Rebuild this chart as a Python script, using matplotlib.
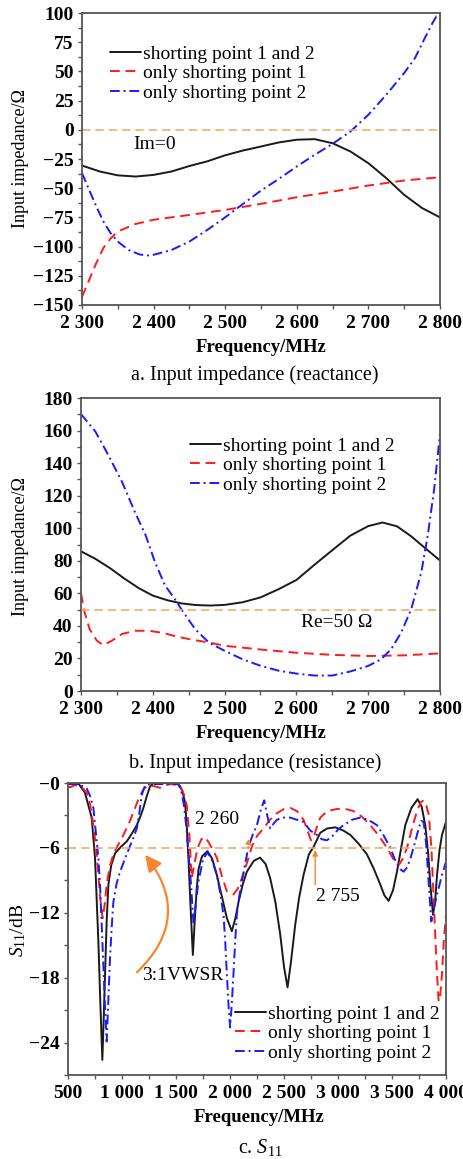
import matplotlib
matplotlib.use("Agg")
import matplotlib.pyplot as plt
from matplotlib.ticker import MultipleLocator, FixedLocator, FixedFormatter

plt.rcParams['font.family'] = ['Liberation Serif', 'DejaVu Serif']
plt.rcParams['mathtext.fontset'] = 'custom'
plt.rcParams['mathtext.rm'] = 'Liberation Serif'
plt.rcParams['mathtext.it'] = 'Liberation Serif:italic'
plt.rcParams['axes.unicode_minus'] = True

# ---------------- data: panel a (reactance) ----------------
a_freq_both = [2300, 2325, 2350, 2375, 2400, 2425, 2450, 2475, 2500, 2525, 2550,
               2575, 2600, 2625, 2650, 2675, 2700, 2725, 2750, 2775, 2800]
a_both = [-30.6, -35.7, -39, -40, -38.6, -35.7, -31, -27, -21.8, -17.7, -14.3,
          -10.8, -8.5, -8, -11.5, -18.6, -28.6, -41.4, -55.7, -67, -75]
a_freq_p1 = [2300, 2310, 2320, 2330, 2340, 2350, 2375, 2400, 2450, 2500, 2550,
             2600, 2650, 2700, 2750, 2800]
a_p1 = [-143, -128.6, -114, -101, -93, -87, -80.6, -77, -72.9, -68.6, -63.4,
        -57.7, -52.9, -47.7, -43.4, -40.6]
a_freq_p2 = [2300, 2310, 2320, 2330, 2340, 2350, 2365, 2380, 2390, 2400, 2425,
             2450, 2475, 2500, 2525, 2550, 2575, 2600, 2625, 2650, 2675, 2700,
             2725, 2750, 2765, 2780, 2790, 2795, 2800]
a_p2 = [-37, -51.4, -65.7, -78.6, -88.6, -95.7, -102.9, -106.6, -107.7, -107,
        -102.9, -95.7, -85.7, -74.9, -63.4, -52, -42, -31.4, -21.4, -12, -1.4,
        12.9, 30, 48.6, 61.4, 80, 92, 97, 96.6]

# ---------------- data: panel b (resistance) ----------------
b_freq_both = [2300, 2320, 2340, 2360, 2380, 2400, 2420, 2440, 2460, 2480, 2500,
               2525, 2550, 2575, 2600, 2625, 2650, 2675, 2700, 2720, 2740, 2760,
               2780, 2800]
b_both = [85.8, 81.2, 75.6, 69.2, 63.3, 58.6, 55.8, 53.8, 52.8, 52.5, 52.9,
          54.5, 57.5, 62.5, 68.2, 77.5, 86.5, 95.4, 101.3, 103.5, 101.2, 95,
          87.5, 80.2]
b_freq_p1 = [2300, 2305, 2312, 2322, 2331, 2343, 2357, 2375, 2395, 2415, 2435,
             2455, 2478, 2500, 2550, 2600, 2650, 2700, 2750, 2800]
b_p1 = [60, 48.3, 38, 30.9, 28.2, 30.9, 35, 37, 37, 35.6, 33.3, 31.5, 29.8,
        27.8, 25.5, 23.5, 22.2, 21.5, 21.9, 23.1]
b_freq_p2 = [2300, 2320, 2338, 2357, 2375, 2390, 2403, 2417, 2429, 2441, 2459,
             2478, 2500, 2525, 2550, 2575, 2600, 2625, 2650, 2675, 2700, 2718,
             2732, 2746, 2760, 2774, 2783, 2792, 2800]
b_p2 = [170.1, 159.4, 145, 128.6, 110, 95.7, 79.2, 64.8, 57.6, 49.4, 38, 29.8,
        24.7, 19.5, 15.5, 12.5, 10.7, 9.5, 9.5, 12, 15.4, 19.5, 25.7, 36, 50.4,
        73, 95.7, 124.5, 158]

# ---------------- data: panel c (S11) ----------------
c_freq_both = [500, 600, 657, 719, 750, 781, 800, 818, 830, 843, 858, 874, 900,
               936, 990, 1044, 1090, 1137, 1170, 1198, 1230, 1260, 1290, 1500,
               1538, 1560, 1584, 1600, 1615, 1635, 1656, 1675, 1690, 1708, 1740,
               1791, 1835, 1878, 1925, 1971, 2017, 2050, 2079, 2120, 2156, 2220,
               2279, 2330, 2372, 2420, 2465, 2500, 2533, 2565, 2604, 2640, 2681,
               2730, 2774, 2836, 2900, 2975, 3050, 3114, 3190, 3268, 3330, 3392,
               3430, 3469, 3510, 3546, 3585, 3623, 3680, 3737, 3775, 3808, 3835,
               3855, 3880, 3900, 3917, 3940, 3963, 4000]
c_both = [0, -0.1, -0.9, -3.2, -6.9, -14.6, -20.5, -25.6, -22, -17.7, -12.8,
          -9.4, -7.6, -6.5, -5.9, -5.4, -4.7, -3.9, -3.1, -2.3, -1.2, -0.3, 0,
          0, -0.3, -0.8, -1.8, -4, -6.9, -11.5, -15.9, -12.5, -10, -8, -6.8,
          -6.3, -7, -8.5, -10.5, -12.5, -13.7, -12.5, -11, -9.3, -8.2, -7.2,
          -6.9, -7.5, -8.8, -11, -14, -17, -18.9, -16.5, -13.1, -10.6, -8.5,
          -6.6, -5.9, -4.6, -4.2, -4.1, -4.4, -4.8, -5.6, -6.6, -7.9, -9.4,
          -10.4, -10.9, -9.9, -8.2, -6, -3.9, -2.3, -1.5, -2.2, -3.9, -6.5,
          -9.4, -12.2, -10.8, -8.5, -6.2, -4.8, -3.6]
c_freq_p1 = [500, 520, 560, 620, 673, 705, 735, 760, 781, 800, 821, 840, 858,
             885, 920, 965, 1013, 1070, 1121, 1160, 1198, 1240, 1300, 1352,
             1400, 1450, 1530, 1554, 1580, 1600, 1625, 1645, 1670, 1700, 1735,
             1770, 1810, 1878, 1930, 1971, 2032, 2070, 2110, 2160, 2202, 2250,
             2310, 2370, 2434, 2500, 2557, 2620, 2681, 2725, 2750, 2775, 2800,
             2836, 2900, 2990, 3070, 3144, 3220, 3299, 3380, 3454, 3510, 3562,
             3600, 3639, 3690, 3732, 3765, 3793, 3815, 3840, 3865, 3886, 3900,
             3917, 3932, 3945, 3963, 3980, 4000]
c_p1 = [-0.3, -0.4, -0.2, -0.3, -0.9, -2, -3.9, -6, -8.5, -10.8, -12.5, -11.2,
        -9.4, -7.8, -6.6, -5.7, -4.8, -3.6, -2.3, -1.3, -0.6, -0.2, -0.3,
        -0.45, -0.2, -0.1, -0.2, -0.6, -1.2, -2.1, -5, -8.8, -7.5, -6, -5.2,
        -5.0, -5.6, -6.9, -8.8, -10, -10.3, -9.8, -8.8, -7.3, -5.9, -4.9,
        -4.2, -3.4, -2.8, -2.4, -2.3, -2.6, -3.4, -4.6, -5.3, -5.0, -4.2,
        -3.2, -2.6, -2.4, -2.4, -2.6, -3.1, -3.9, -4.9, -6.0, -7.0, -7.6,
        -7.0, -6.0, -4.0, -2.6, -1.8, -1.6, -2.0, -2.9, -6.0, -10.8, -14,
        -17.7, -20.2, -19.8, -17.7, -14.5, -12.2]
c_freq_p2 = [500, 600, 673, 705, 735, 760, 781, 797, 812, 828, 843, 858, 872,
             889, 905, 920, 950, 982, 1020, 1059, 1100, 1137, 1160, 1183, 1214,
             1250, 1523, 1550, 1574, 1595, 1615, 1640, 1662, 1685, 1708, 1750,
             1791, 1835, 1878, 1910, 1940, 1955, 1971, 1986, 2001, 2016, 2032,
             2047, 2063, 2085, 2110, 2140, 2171, 2210, 2249, 2285, 2317, 2345,
             2372, 2400, 2434, 2490, 2557, 2620, 2681, 2743, 2805, 2850, 2898,
             2950, 3000, 3052, 3130, 3206, 3280, 3361, 3420, 3484, 3540, 3580,
             3608, 3640, 3670, 3710, 3747, 3770, 3793, 3815, 3831, 3850, 3864,
             3880, 3917, 3963, 4000]
c_p2 = [-0.1, -0.1, -0.5, -1.2, -2.3, -4.8, -6.9, -9.5, -13.1, -17, -20.8,
        -23.9, -20.5, -16.2, -13.3, -11, -9.3, -8.2, -7.2, -6.2, -5.2, -4.2,
        -2.8, -1.1, -0.2, -0.1, -0.1, -0.8, -2.1, -4, -6.4, -9.5, -13, -11,
        -9.1, -7.1, -6.4, -7.2, -8.5, -10.2, -12.2, -14.5, -17.7, -20.5,
        -22.6, -20.5, -17.7, -14.8, -12.2, -10.5, -9.1, -7.5, -5.9, -4.8,
        -3.9, -2.5, -1.6, -3.0, -4.2, -3.8, -3.4, -3.2, -3.2, -3.4, -3.6,
        -4.4, -4.8, -5.2, -5.3, -4.9, -4.3, -3.9, -3.4, -3.2, -3.4, -3.9,
        -4.8, -6.0, -7.4, -8.0, -8.2, -7.8, -7.0, -5.6, -4.2, -3.5, -3.6,
        -5.5, -7.9, -10.8, -12.8, -12, -10.3, -8.5, -7.3]

labels = ['shorting point 1 and 2', 'only shorting point 1', 'only shorting point 2']
a_xticks = [2300, 2400, 2500, 2600, 2700, 2800]
a_xticklabels = ['2 300', '2 400', '2 500', '2 600', '2 700', '2 800']
a_yticks = [-150, -125, -100, -75, -50, -25, 0, 25, 50, 75, 100]
a_yticklabels = ['\u2212150', '\u2212125', '\u2212100', '\u221275', '\u221250', '\u221225',
                 '0', '25', '50', '75', '100']
b_yticks = [0, 20, 40, 60, 80, 100, 120, 140, 160, 180]
c_xticks = [500, 1000, 1500, 2000, 2500, 3000, 3500, 4000]
c_xticklabels = ['500', '1 000', '1 500', '2 000', '2 500', '3 000', '3 500', '4 000']
c_yticks = [-24, -18, -12, -6, 0]
c_yticklabels = ['\u221224', '\u221218', '\u221212', '\u22126', '\u22120']

# ---------------- style ----------------
W, H = 464, 1159
fig = plt.figure(figsize=(W / 100, H / 100), dpi=100)

BLACK = '#1a1a1a'
RED = '#ff1a1a'
BLUE = '#1a1aff'
ORANGE_LINE = '#f5aa6c'
ORANGE_ARROW = '#f7862c'
SPINE = '#555555'
LW = 1.4
TICKFS = 14
LABFS = 13.5
LEGFS = 14


def ax_rect(l, t, r, b):
    return [l / W, 1 - b / H, (r - l) / W, (b - t) / H]


def style_axes(ax):
    for s in ax.spines.values():
        s.set_color(SPINE)
        s.set_linewidth(1.3)
    ax.tick_params(which='both', direction='out', color=SPINE, width=1.0)
    ax.tick_params(which='major', length=3, labelsize=TICKFS)
    ax.tick_params(which='minor', length=3)
    ax.tick_params(axis='x', which='major', pad=4)
    ax.tick_params(axis='y', which='major', pad=3)
    for lab in ax.get_xticklabels() + ax.get_yticklabels():
        lab.set_fontweight('bold')


def plot_three(ax, f1, y1, f2, y2, f3, y3):
    l1, = ax.plot(f1, y1, color=BLACK, lw=LW, solid_capstyle='round')
    l2, = ax.plot(f2, y2, color=RED, lw=LW, dashes=(5, 3))
    l3, = ax.plot(f3, y3, color=BLUE, lw=LW, dashes=(5, 2, 1, 2))
    return [l1, l2, l3]


def add_legend(ax, handles, x0, y0):
    ax.legend(handles, labels, loc='upper left', bbox_to_anchor=(x0, y0),
              frameon=False, fontsize=LEGFS, handlelength=1.6,
              handletextpad=0.1, labelspacing=0.1, borderpad=0,
              borderaxespad=0)


# ---------------- panel a ----------------
axa = fig.add_axes(ax_rect(82, 13, 440, 305))
hl = plot_three(axa, a_freq_both, a_both, a_freq_p1, a_p1, a_freq_p2, a_p2)
axa.axhline(0, color=ORANGE_LINE, lw=1.2, dashes=(5, 3))
axa.set_xlim(2300, 2800)
axa.set_ylim(-150, 100)
axa.xaxis.set_major_locator(FixedLocator(a_xticks))
axa.xaxis.set_major_formatter(FixedFormatter(a_xticklabels))
axa.xaxis.set_minor_locator(MultipleLocator(50))
axa.yaxis.set_major_locator(FixedLocator(a_yticks))
axa.yaxis.set_major_formatter(FixedFormatter(a_yticklabels))
axa.yaxis.set_minor_locator(MultipleLocator(12.5))
style_axes(axa)
add_legend(axa, hl, 0.078, 0.89)
axa.text(2371, -12.2, 'Im=0', fontsize=LEGFS, ha='left', va='center')

# ---------------- panel b ----------------
axb = fig.add_axes(ax_rect(81, 398, 440, 691))
hl = plot_three(axb, b_freq_both, b_both, b_freq_p1, b_p1, b_freq_p2, b_p2)
axb.axhline(50, color=ORANGE_LINE, lw=1.2, dashes=(5, 3))
axb.set_xlim(2300, 2800)
axb.set_ylim(0, 180)
axb.xaxis.set_major_locator(FixedLocator(a_xticks))
axb.xaxis.set_major_formatter(FixedFormatter(a_xticklabels))
axb.xaxis.set_minor_locator(MultipleLocator(50))
axb.yaxis.set_major_locator(FixedLocator(b_yticks))
axb.yaxis.set_minor_locator(MultipleLocator(10))
style_axes(axb)
add_legend(axb, hl, 0.304, 0.867)
axb.text(2606, 41.8, 'Re=50 \u03a9', fontsize=LEGFS, ha='left', va='center')

# ---------------- panel c ----------------
axc = fig.add_axes(ax_rect(68, 783, 446, 1075))
hl = plot_three(axc, c_freq_both, c_both, c_freq_p1, c_p1, c_freq_p2, c_p2)
axc.axhline(-6, color=ORANGE_LINE, lw=1.2, dashes=(5, 3))
axc.set_xlim(500, 4000)
axc.set_ylim(-27, 0)
axc.xaxis.set_major_locator(FixedLocator(c_xticks))
axc.xaxis.set_major_formatter(FixedFormatter(c_xticklabels))
axc.xaxis.set_minor_locator(MultipleLocator(250))
axc.yaxis.set_major_locator(FixedLocator(c_yticks))
axc.yaxis.set_major_formatter(FixedFormatter(c_yticklabels))
axc.yaxis.set_minor_locator(MultipleLocator(3))
style_axes(axc)
add_legend(axc, hl, 0.442, 0.24)

axc.annotate('2 260', xy=(2205, -5.8), xytext=(1881, -3.4), fontsize=LEGFS,
             ha='center', va='center',
             arrowprops=dict(arrowstyle='-|>', color=ORANGE_ARROW, lw=1.0,
                             shrinkA=14, shrinkB=0, mutation_scale=8))
axc.annotate('2 755', xy=(2789, -6.2), xytext=(3002, -10.5), fontsize=LEGFS,
             ha='center', va='center')
axc.annotate('', xy=(2789, -6.2), xytext=(2789, -9.4),
             arrowprops=dict(arrowstyle='-|>', color=ORANGE_ARROW, lw=1.0,
                             shrinkA=0, shrinkB=0, mutation_scale=8))
axc.text(1561, -17.8, '3:1VWSR', fontsize=LEGFS, ha='center', va='center')
axc.annotate('', xy=(1214, -6.65), xytext=(1139, -17.5),
             arrowprops=dict(arrowstyle='-|>,head_length=0.7,head_width=0.35',
                             color=ORANGE_ARROW, lw=1.6, shrinkA=0, shrinkB=0,
                             mutation_scale=14,
                             connectionstyle='arc3,rad=0.45'))

# ---------------- labels & captions ----------------
def ftext(x, y, s, **kw):
    fig.text(x / W, 1 - y / H, s, **kw)

ftext(261, 347, 'Frequency/MHz', fontsize=LABFS, fontweight='bold', ha='center', va='center')
ftext(255, 375, 'a. Input impedance (reactance)', fontsize=14.5, ha='center', va='center')
ftext(261, 733, 'Frequency/MHz', fontsize=LABFS, fontweight='bold', ha='center', va='center')
ftext(255, 763, 'b. Input impedance (resistance)', fontsize=14.5, ha='center', va='center')
ftext(259, 1117, 'Frequency/MHz', fontsize=LABFS, fontweight='bold', ha='center', va='center')
ftext(260, 1147, 'c. $S_{11}$', fontsize=14.5, ha='center', va='center')

ftext(21, 159, 'Input impedance/\u03a9', fontsize=13, rotation=90, ha='center', va='center')
ftext(21, 547, 'Input impedance/\u03a9', fontsize=13, rotation=90, ha='center', va='center')
ftext(18, 930, '$S_{11}$/dB', fontsize=14, rotation=90, ha='center', va='center')

fig.savefig('out.png', dpi=100)
